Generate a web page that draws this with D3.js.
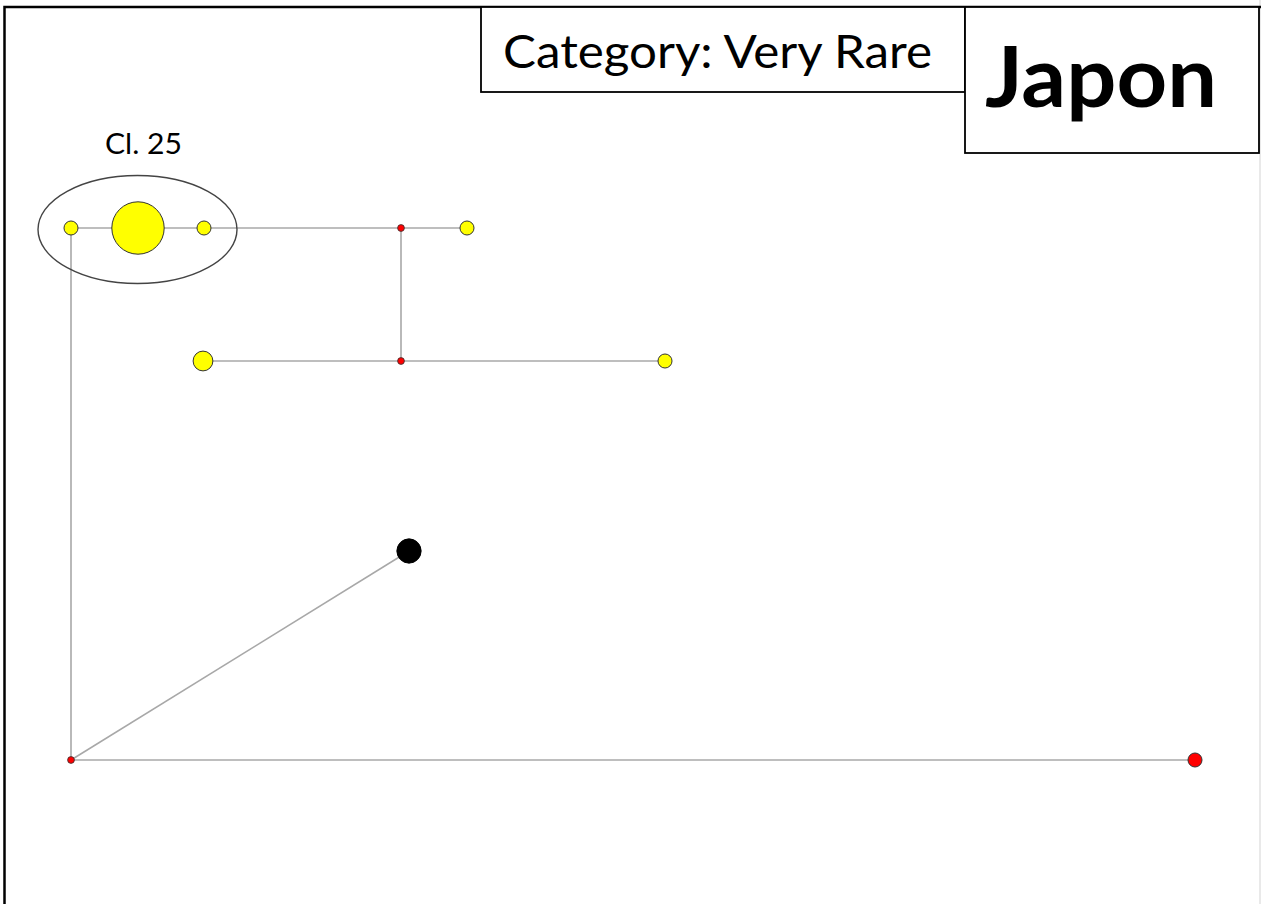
<!DOCTYPE html>
<html>
<head>
<meta charset="utf-8">
<script src="https://cdn.jsdelivr.net/npm/d3@7"></script>
<style>
  html, body { margin: 0; padding: 0; background: #fff; }
  svg { display: block; }
</style>
</head>
<body>
<svg id="chart" width="1261" height="904"></svg>
<script>
// ---- Data ----
// Network nodes: layout position (abstract network units), frequency count, group colour
const nodeIds     = ["h1", "h2", "h3", "mv1", "h4", "mv2", "h5", "h6", "mv3", "h7", "h8"];
const nodeX       = [0, 67, 133, 330, 396, 330, 132, 594, 0, 338, 1124];
const nodeY       = [532, 532, 532, 532, 532, 399, 399, 399, 0, 209, 0];
const nodeCount   = [1, 14, 1, 0, 1, 0, 2, 1, 0, 3, 1];
const nodeGroup   = ["Japon", "Japon", "Japon", "median", "Japon", "median", "Japon", "Japon", "median", "Other", "Other2"];

// Edges between nodes
const edgeSource  = ["h1", "h2", "h3", "mv1", "mv1", "h5", "mv2", "h1", "mv3", "mv3"];
const edgeTarget  = ["h2", "h3", "mv1", "h4", "mv2", "mv2", "h6", "mv3", "h7", "h8"];

// Cluster annotation
const clusterLabel   = "Cl. 25";
const clusterMembers = ["h1", "h2", "h3"];

const categoryLabel = "Category: Very Rare";
const titleLabel    = "Japon";

const groupColors = { Japon: "#ffff00", median: "#ff0000", Other: "#000000", Other2: "#ff0000" };

// ---- Build ----
const nodes = nodeIds.map((id, i) => ({ id, x: nodeX[i], y: nodeY[i], count: nodeCount[i], group: nodeGroup[i] }));
const byId = new Map(nodes.map(n => [n.id, n]));
const edges = edgeSource.map((s, i) => ({ source: byId.get(s), target: byId.get(edgeTarget[i]) }));

const svg = d3.select("#chart");
const W = 1261, H = 904;

const x = d3.scaleLinear().domain([0, 1124]).range([71, 1195]);
const y = d3.scaleLinear().domain([0, 532]).range([760, 228]);
const r = d3.scaleSqrt().domain([0, 14]).range([0, 26.2]);
const radius = d => d.count === 0 ? 3.4 : r(d.count);

// frame
svg.append("line").attr("x1", 1260).attr("x2", 1260).attr("y1", 0).attr("y2", H)
  .attr("stroke", "#e2e2e2").attr("stroke-width", 1.5);
svg.append("path").attr("d", `M4.5,${H} L4.5,7 L${W},7`)
  .attr("fill", "none").attr("stroke", "#000").attr("stroke-width", 2.5);

// edges
svg.append("g").selectAll("line").data(edges).join("line")
  .attr("x1", d => x(d.source.x)).attr("y1", d => y(d.source.y))
  .attr("x2", d => x(d.target.x)).attr("y2", d => y(d.target.y))
  .attr("stroke", "#a8a8a8").attr("stroke-width", 1.6);

// cluster ellipse
const cm = clusterMembers.map(id => byId.get(id));
const cxMin = d3.min(cm, d => x(d.x) - radius(d)), cxMax = d3.max(cm, d => x(d.x) + radius(d));
const ccx = (cxMin + cxMax) / 2, ccy = d3.mean(cm, d => y(d.y)) + 1.5;
svg.append("ellipse")
  .attr("cx", ccx).attr("cy", ccy).attr("rx", 99.5).attr("ry", 54)
  .attr("fill", "none").attr("stroke", "#444").attr("stroke-width", 1.4);
svg.append("text").attr("x", 105).attr("y", 154)
  .attr("font-family", "Lato, 'Open Sans', sans-serif").attr("font-size", 29)
  .attr("textLength", 77).attr("lengthAdjust", "spacingAndGlyphs")
  .attr("fill", "#000").text(clusterLabel);

// nodes
svg.append("g").selectAll("circle").data(nodes).join("circle")
  .attr("cx", d => x(d.x)).attr("cy", d => y(d.y))
  .attr("r", radius)
  .attr("fill", d => groupColors[d.group])
  .attr("stroke", d => d.group === "Other" ? "#000" : "#333")
  .attr("stroke-width", d => d.count === 0 ? 0.8 : 1);

// category box
svg.append("rect").attr("x", 481).attr("y", 7).attr("width", 484).attr("height", 85)
  .attr("fill", "#fff").attr("stroke", "#000").attr("stroke-width", 1.8);
svg.append("text").attr("x", 503).attr("y", 68)
  .attr("font-family", "Lato, 'Open Sans', sans-serif").attr("font-size", 46)
  .attr("textLength", 429).attr("lengthAdjust", "spacingAndGlyphs")
  .attr("fill", "#000").text(categoryLabel);

// title box
svg.append("rect").attr("x", 965).attr("y", 7).attr("width", 294).attr("height", 146)
  .attr("fill", "#fff").attr("stroke", "#000").attr("stroke-width", 1.8);
svg.append("text").attr("x", 985).attr("y", 107)
  .attr("font-family", "Lato, 'Open Sans', sans-serif").attr("font-weight", "bold").attr("font-size", 84)
  .attr("textLength", 232).attr("lengthAdjust", "spacingAndGlyphs")
  .attr("fill", "#000").text(titleLabel);
</script>
</body>
</html>
